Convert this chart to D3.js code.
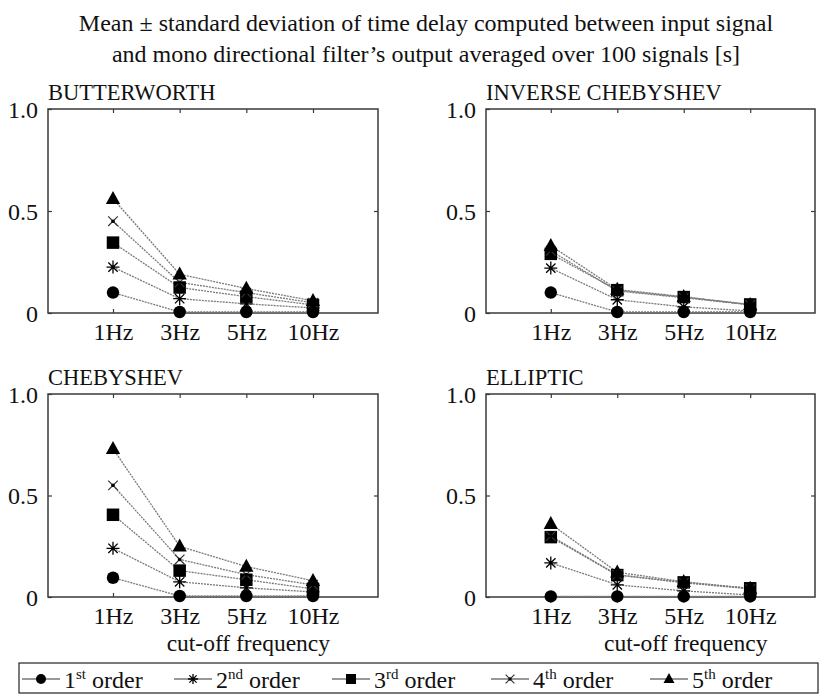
<!DOCTYPE html>
<html>
<head>
<meta charset="utf-8">
<script src="https://cdn.jsdelivr.net/npm/d3@7"></script>
<style>
  body { margin: 0; background: #fff; }
</style>
</head>
<body>
<svg id="chart" width="821" height="694"></svg>
<script>
// ---------- data ----------
const categories = ["1Hz", "3Hz", "5Hz", "10Hz"];
const orderNums = ["1", "2", "3", "4", "5"];
const orderSup = ["st", "nd", "rd", "th", "th"];
const yTickValues = [0, 0.5, 1.0];
const yTickLabels = ["0", "0.5", "1.0"];
const panelTitles = ["BUTTERWORTH", "INVERSE CHEBYSHEV", "CHEBYSHEV", "ELLIPTIC"];

// values per order (1st..5th) at 1Hz,3Hz,5Hz,10Hz
const butterworth = [
  [0.10, 0.005, 0.005, 0.005],
  [0.225, 0.07, 0.045, 0.025],
  [0.345, 0.125, 0.08, 0.04],
  [0.45, 0.15, 0.10, 0.05],
  [0.56, 0.19, 0.12, 0.06]
];
const inverseChebyshev = [
  [0.10, 0.005, 0.005, 0.005],
  [0.22, 0.065, 0.03, 0.01],
  [0.29, 0.112, 0.078, 0.042],
  [0.305, 0.108, 0.075, 0.04],
  [0.33, 0.115, 0.08, 0.04]
];
const chebyshev = [
  [0.095, 0.005, 0.005, 0.005],
  [0.24, 0.075, 0.045, 0.025],
  [0.405, 0.13, 0.085, 0.04],
  [0.55, 0.185, 0.11, 0.06],
  [0.73, 0.25, 0.15, 0.08]
];
const elliptic = [
  [0.003, 0.003, 0.003, 0.003],
  [0.168, 0.06, 0.03, 0.01],
  [0.295, 0.108, 0.072, 0.043],
  [0.30, 0.11, 0.07, 0.04],
  [0.36, 0.122, 0.075, 0.042]
];
const panelData = [butterworth, inverseChebyshev, chebyshev, elliptic];

// ---------- layout ----------
const FF = '"Liberation Serif", "Times New Roman", serif';
const svg = d3.select("#chart");
const frameColor = "#3a3a3a";
const lineColor = "#7a7a7a";

function txt(sel, size) {
  return sel.style("font-family", FF).style("font-size", size + "px").attr("fill", "#111");
}

const panels = [
  {x0: 48, x1: 378, y0: 109, y1: 313, xlab: false},
  {x0: 486, x1: 815, y0: 109, y1: 313, xlab: false},
  {x0: 48, x1: 378, y0: 394, y1: 597, xlab: true},
  {x0: 486, x1: 815, y0: 394, y1: 597, xlab: true}
];

// title
const title = txt(svg.append("text").attr("text-anchor", "middle"), 24);
title.append("tspan").attr("x", 426).attr("y", 31)
  .text("Mean \u00B1 standard deviation of time delay computed between input signal");
title.append("tspan").attr("x", 426).attr("y", 62)
  .text("and mono directional filter\u2019s output averaged over 100 signals [s]");

// marker drawing
function drawMarker(g, k, size) {
  const s = size;
  if (k === 0) {
    g.append("circle").attr("r", s * 0.5).attr("fill", "#000");
  } else if (k === 1) {
    const r = s * 0.5, d = r * 0.72;
    g.append("path")
      .attr("d", `M0,${-r}L0,${r}M${-r},0L${r},0M${-d},${-d}L${d},${d}M${-d},${d}L${d},${-d}`)
      .attr("stroke", "#000").attr("stroke-width", 1.3).attr("fill", "none");
  } else if (k === 2) {
    g.append("rect").attr("x", -s * 0.5).attr("y", -s * 0.5)
      .attr("width", s).attr("height", s).attr("fill", "#000");
  } else if (k === 3) {
    const d = s * 0.4;
    g.append("path")
      .attr("d", `M${-d},${-d}L${d},${d}M${-d},${d}L${d},${-d}`)
      .attr("stroke", "#333").attr("stroke-width", 1.2).attr("fill", "none");
    g.append("circle").attr("r", s * 0.15).attr("fill", "#000");
  } else {
    const h = s, w = s * 1.1;
    g.append("path")
      .attr("d", `M0,${-h * 0.6}L${w / 2},${h * 0.4}L${-w / 2},${h * 0.4}Z`)
      .attr("fill", "#000");
  }
}
const markerSizes = [12.5, 13, 12.5, 12, 13];

panels.forEach((p, pi) => {
  const x = d3.scalePoint().domain(categories).range([p.x0, p.x1]).padding(0.975);
  const y = d3.scaleLinear().domain([0, 1]).range([p.y1, p.y0]);
  const g = svg.append("g");

  // panel title
  txt(g.append("text").attr("x", p.x0).attr("y", p.y0 - 9), 22.5).text(panelTitles[pi]);

  // axes
  const fmt = v => yTickLabels[yTickValues.indexOf(v)];
  const axL = g.append("g").attr("transform", `translate(${p.x0},0)`)
    .call(d3.axisLeft(y).tickValues(yTickValues).tickFormat(fmt).tickSize(-4).tickPadding(10));
  const axR = g.append("g").attr("transform", `translate(${p.x1},0)`)
    .call(d3.axisRight(y).tickValues([0.5]).tickFormat("").tickSize(-4));
  const axB = g.append("g").attr("transform", `translate(0,${p.y1})`)
    .call(d3.axisBottom(x).tickSize(-4).tickPadding(10));
  const axT = g.append("g").attr("transform", `translate(0,${p.y0})`)
    .call(d3.axisTop(x).tickSize(-4).tickFormat(""));
  [axL, axR, axB, axT].forEach(a => {
    a.select(".domain").remove();
    a.selectAll("line").attr("stroke", frameColor).attr("stroke-width", 1.2);
    txt(a.selectAll("text"), 24);
  });
  axL.selectAll("text").attr("dy", "0.34em");

  // frame
  g.append("rect").attr("x", p.x0).attr("y", p.y0)
    .attr("width", p.x1 - p.x0).attr("height", p.y1 - p.y0)
    .attr("fill", "none").attr("stroke", frameColor).attr("stroke-width", 1.5);

  // series
  const data = panelData[pi];
  const line = d3.line().x((d, i) => x(categories[i])).y(d => y(d));
  data.forEach((vals, k) => {
    g.append("path").datum(vals).attr("d", line)
      .attr("fill", "none").attr("stroke", lineColor)
      .attr("stroke-width", 1.3).attr("stroke-dasharray", "2,1");
  });
  data.forEach((vals, k) => {
    vals.forEach((v, i) => {
      const mg = g.append("g").attr("transform", `translate(${x(categories[i])},${y(v)})`);
      drawMarker(mg, k, markerSizes[k]);
    });
  });

  if (p.xlab) {
    txt(g.append("text").attr("x", x(categories[2]) + 2).attr("y", p.y1 + 54)
      .attr("text-anchor", "middle"), 23.5).text("cut-off frequency");
  }
});

// legend
const lg = svg.append("g");
lg.append("rect").attr("x", 19).attr("y", 663).attr("width", 799).attr("height", 30)
  .attr("fill", "#fff").attr("stroke", "#222").attr("stroke-width", 1.2);
const legX = [22, 174, 332, 491, 650];
orderNums.forEach((n, k) => {
  const lx = legX[k];
  lg.append("line").attr("x1", lx).attr("x2", lx + 38).attr("y1", 679).attr("y2", 679)
    .attr("stroke", "#333").attr("stroke-width", 1.2);
  const mg = lg.append("g").attr("transform", `translate(${lx + 19},679)`);
  drawMarker(mg, k, k === 3 ? 11 : 10);
  const t = txt(lg.append("text").attr("x", lx + 42).attr("y", 688), 24);
  t.append("tspan").text(n);
  t.append("tspan").style("font-size", "15px").attr("dy", -9).text(orderSup[k]);
  t.append("tspan").attr("dy", 9).text(" order");
});
</script>
</body>
</html>
